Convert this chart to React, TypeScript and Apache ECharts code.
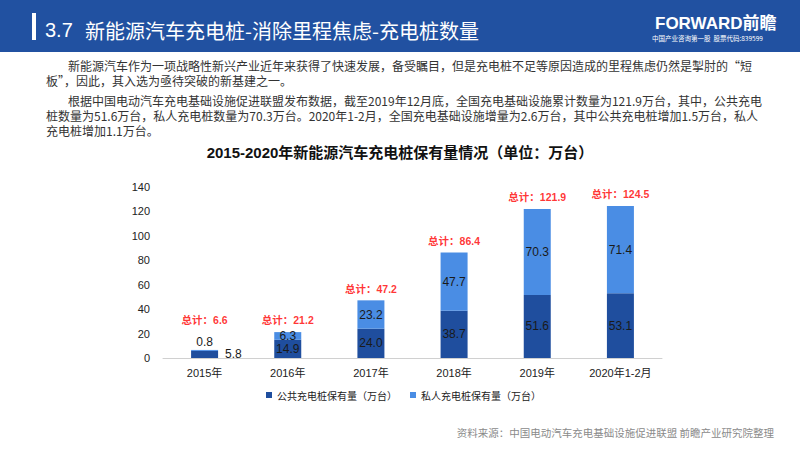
import React, { useEffect, useRef } from 'react';
import * as echarts from 'echarts';

// 2015-2020 charging pile stock (unit: 10k)
const categories = ['2015年', '2016年', '2017年', '2018年', '2019年', '2020年1-2月'];
const publicPiles = [5.8, 14.9, 24.0, 38.7, 51.6, 53.1];
const privatePiles = [0.8, 6.3, 23.2, 47.7, 70.3, 71.4];
const totals = [6.6, 21.2, 47.2, 86.4, 121.9, 124.5];
const yMax = 140;
const yInterval = 20;

const seriesNames = ['公共充电桩保有量（万台）', '私人充电桩保有量（万台）'];

const headerNo = '3.7';
const headerTitle = '新能源汽车充电桩-消除里程焦虑-充电桩数量';
const chartTitle = '2015-2020年新能源汽车充电桩保有量情况（单位：万台）';
const sourceNote = '资料来源：中国电动汽车充电基础设施促进联盟 前瞻产业研究院整理';
const bodyLines = [
  { x: 68, y: 65, text: '新能源汽车作为一项战略性新兴产业近年来获得了快速发展，备受瞩目，但是充电桩不足等原因造成的里程焦虑仍然是掣肘的“短' },
  { x: 46, y: 80, text: '板”，因此，其入选为亟待突破的新基建之一。' },
  { x: 68, y: 100, text: '根据中国电动汽车充电基础设施促进联盟发布数据，截至2019年12月底，全国充电基础设施累计数量为121.9万台，其中，公共充电' },
  { x: 46, y: 115, text: '桩数量为51.6万台，私人充电桩数量为70.3万台。2020年1-2月，全国充电基础设施增量为2.6万台，其中公共充电桩增加1.5万台，私人' },
  { x: 46, y: 130, text: '充电桩增加1.1万台。' }
];

const FONT = '"Liberation Sans", "Noto Sans CJK SC", sans-serif';
const CJK = '"Noto Sans CJK SC", "Liberation Sans", sans-serif';

export default function App() {
  const chartRef = useRef<HTMLDivElement>(null);

  useEffect(() => {
    if (!chartRef.current) return;
    const chart = echarts.init(chartRef.current, null, { renderer: 'svg' });

    const valueLabel = {
      show: true,
      position: 'inside' as const,
      color: '#1a1a1a',
      fontSize: 12,
      formatter: (p: any) => Number(p.value).toFixed(1)
    };

    const option: echarts.EChartsOption = {
      animation: false,
      backgroundColor: '#ffffff',
      textStyle: { fontFamily: FONT },
      graphic: [
        { type: 'rect', shape: { x: 0, y: 0, width: 800, height: 52 }, style: { fill: '#2151a1' } },
        { type: 'rect', shape: { x: 32, y: 13, width: 4, height: 27 }, style: { fill: '#ffffff' } },
        {
          type: 'text', x: 45, y: 30,
          style: { text: headerNo, fill: '#ffffff', fontSize: 20, fontFamily: FONT, verticalAlign: 'middle' }
        },
        {
          type: 'text', x: 85, y: 30,
          style: { text: headerTitle, fill: '#ffffff', fontSize: 20, fontFamily: CJK, verticalAlign: 'middle' }
        },
        {
          type: 'text', x: 655, y: 23,
          style: { text: 'FORWARD前瞻', fill: '#ffffff', fontSize: 17, fontWeight: 'bold', fontFamily: FONT, verticalAlign: 'middle' }
        },
        {
          type: 'text', x: 652, y: 38,
          style: { text: '中国产业咨询第一股  股票代码:839599', fill: '#ffffff', fontSize: 6.5, fontFamily: CJK, verticalAlign: 'middle' }
        },
        ...bodyLines.map(l => ({
          type: 'text' as const, x: l.x, y: l.y,
          style: {
            text: l.text, fill: '#333333', fontSize: 12, lineHeight: 13,
            fontFamily: CJK, verticalAlign: 'middle' as const
          }
        })),
        {
          type: 'text', x: 400, y: 152,
          style: { text: chartTitle, fill: '#111111', fontSize: 15, fontWeight: 'bold', fontFamily: FONT, align: 'center', verticalAlign: 'middle' }
        },
        {
          type: 'text', x: 774, y: 432,
          style: { text: sourceNote, fill: '#8a8a8a', fontSize: 10.5, fontFamily: CJK, align: 'right', verticalAlign: 'middle' }
        }
      ],
      legend: {
        data: seriesNames,
        left: 261,
        top: 385,
        icon: 'rect',
        itemWidth: 6,
        itemHeight: 6,
        itemGap: 13,
        textStyle: { fontSize: 10, color: '#222222', fontFamily: CJK }
      },
      grid: { left: 163, right: 138, top: 187, bottom: 92 },
      xAxis: {
        type: 'category',
        data: categories,
        axisLine: { lineStyle: { color: '#d0d0d0' } },
        axisTick: { show: false },
        axisLabel: { color: '#222222', fontSize: 11, margin: 9 }
      },
      yAxis: {
        type: 'value',
        min: 0,
        max: yMax,
        interval: yInterval,
        axisLine: { show: false },
        axisTick: { show: false },
        splitLine: { show: false },
        axisLabel: { color: '#222222', fontSize: 11, margin: 13 }
      },
      series: [
        {
          name: seriesNames[0],
          type: 'bar',
          stack: 'piles',
          barWidth: 27,
          itemStyle: { color: '#1f4e9e' },
          label: valueLabel,
          data: publicPiles.map((v, i) =>
            i === 0 ? { value: v, label: { position: 'right', distance: 7 } } : v
          )
        },
        {
          name: seriesNames[1],
          type: 'bar',
          stack: 'piles',
          barWidth: 27,
          itemStyle: { color: '#4a8de4' },
          label: valueLabel,
          data: privatePiles.map((v, i) =>
            i === 0 ? { value: v, label: { position: 'top', distance: 2 } } : v
          )
        },
        {
          name: '总计',
          type: 'scatter',
          symbolSize: 1,
          itemStyle: { color: 'rgba(0,0,0,0)' },
          silent: true,
          label: {
            show: true,
            position: 'top',
            distance: 6,
            color: '#ff0000',
            fontSize: 10.5,
            fontWeight: 'bold',
            formatter: (p: any) => '总计：' + p.value
          },
          data: totals.map((v, i) =>
            i === 0 ? { value: v, label: { offset: [0, -18] } } : v
          )
        }
      ]
    };

    chart.setOption(option);
    return () => chart.dispose();
  }, []);

  return (
    <div
      ref={chartRef}
      style={{ position: 'fixed', left: 0, top: 0, width: 800, height: 450 }}
    />
  );
}
